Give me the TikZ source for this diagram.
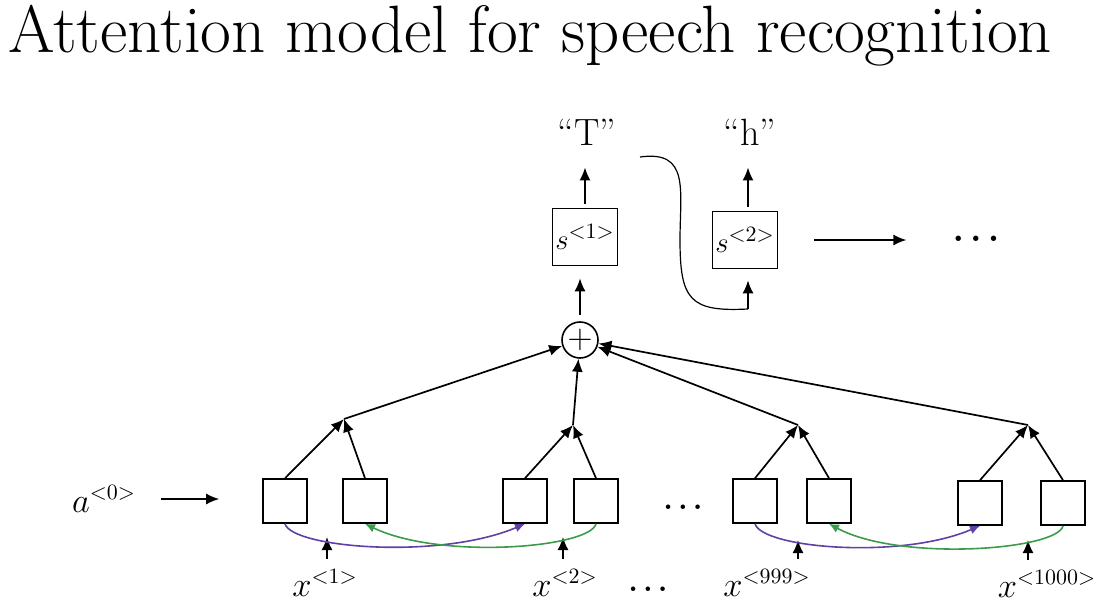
\documentclass[tikz,border=0pt]{standalone}
\usetikzlibrary{positioning}
\usetikzlibrary{arrows.meta}
\definecolor{purp}{RGB}{95,65,165}
\definecolor{grn}{RGB}{60,155,75}
\tikzset{
    mybox/.style = {rectangle, draw=black, line width=0.8pt, minimum size=22pt, inner sep=0pt},
    mysbox/.style = {rectangle, draw=black, line width=0.8pt, minimum width=32.5pt, minimum height=28.5pt, inner sep=0pt, font=\fontsize{15}{17}\selectfont},
    mycirc/.style = {circle, draw=black, line width=0.8pt, minimum size=18pt, inner sep=0pt, font=\fontsize{16}{16}\selectfont},
    mylab/.style = {inner sep=1pt, font=\fontsize{16}{19}\selectfont},
    mydots/.style = {inner sep=1pt, font=\fontsize{#1}{#1}\selectfont\boldmath},
    myquote/.style = {inner sep=1pt, font=\fontsize{19}{22}\selectfont},
    edgen/.style = {-{Latex[length=6.5pt,width=5.5pt]}, line width=0.85pt, black},
    edgeline/.style = {-, line width=0.6pt, black},
    edgep/.style = {-{Latex[length=5pt,width=4.5pt]}, line width=0.8pt, purp},
    edgeg/.style = {-{Latex[length=5pt,width=4.5pt]}, line width=0.8pt, grn},
}
\begin{document}
\begin{tikzpicture}[x=0.5pt,y=-0.5pt]
\path[use as bounding box] (0,0) rectangle (1107,610);
\node[anchor=base west, inner sep=0pt, font=\fontsize{33.5}{38}\selectfont] at (8,53) (title) {Attention model for speech recognition};
%
\node[mybox] at (285,501) (b1) {};
\node[mybox] at (365,501) (b2) {};
\node[mybox] at (525,501) (b3) {};
\node[mybox] at (596,501) (b4) {};
\node[mybox] at (755,501) (b5) {};
\node[mybox] at (829,501) (b6) {};
\node[mybox] at (980,503) (b7) {};
\node[mybox] at (1063,503) (b8) {};
%
\coordinate (m1) at (344,419);
\coordinate (m2) at (573,425);
\coordinate (m3) at (798,425);
\coordinate (m4) at (1028,425);
%
\node[mycirc] at (580,340) (plus) {$+$};
\node[mysbox] at (585,237) (s1) {$s^{<1>}$};
\node[mysbox] at (745,240) (s2) {$s^{<2>}$};
\node[myquote, anchor=base] at (587,145) (T) {``T''};
\node[myquote, anchor=base] at (750,145) (h) {``h''};
\node[mydots=18] at (976,239) (dots1) {$\dots$};
\node[mydots=14] at (683,507) (dots2) {$\dots$};
\node[mydots=14] at (648,589) (dots3) {$\dots$};
%
\node[mylab] at (104,499) (a0) {$a^{<0>}$};
\node[mylab, anchor=base] at (325,596) (x1) {$x^{<1>}$};
\node[mylab, anchor=base] at (565,596) (x2) {$x^{<2>}$};
\node[mylab, anchor=base] at (767,596) (x999) {$x^{<999>}$};
\node[mylab, anchor=base] at (1047,597) (x1000) {$x^{<1000>}$};
%
\coordinate (xt1) at (327,537);
\coordinate (xt2) at (563,537);
\coordinate (xt3) at (798,540);
\coordinate (xt4) at (1028,540);
\coordinate (c0) at (640,157);
\coordinate (c1) at (748,309);
%
\draw[edgen] (b1.north) -- (m1);
\draw[edgen] (b2.north) -- (m1);
\draw[edgen] (b3.north) -- (m2);
\draw[edgen] (b4.north) -- (m2);
\draw[edgen] (b5.north) -- (m3);
\draw[edgen] (b6.north) -- (m3);
\draw[edgen] (b7.north) -- (m4);
\draw[edgen] (b8.north) -- (m4);
\draw[edgen] (m1) -- (plus);
\draw[edgen] (m2) -- (plus);
\draw[edgen] (m3) -- (plus);
\draw[edgen] (m4) -- (plus);
%
\draw[edgen, shorten <=3pt, shorten >=6pt] (plus.north) -- (plus.north |- s1.south);
\draw[edgen, shorten <=2pt, shorten >=10pt] (s1.north) -- (s1.north |- T.south);
\draw[edgen, shorten <=2pt, shorten >=10pt] (c1 |- s2.north) -- (c1 |- h.south);
\draw[edgeline] (c0) .. controls (690,150) and (680,190) .. (680,240) .. controls (680,300) and (690,312) .. (c1);
\draw[edgen, shorten >=5.5pt] (c1) -- (c1 |- s2.south);
\draw[edgen, shorten <=18pt, shorten >=22pt] (s2.east) -- (s2.east -| dots1.west);
\draw[edgen, shorten <=11.5pt, shorten >=21.5pt] (a0.east) -- (a0.east -| b1.west);
%
\draw[edgen, shorten <=4pt] (x1.north -| xt1) -- (xt1);
\draw[edgen, shorten <=4pt] (x2.north -| xt2) -- (xt2);
\draw[edgen, shorten <=4pt] (x999.north -| xt3) -- (xt3);
\draw[edgen, shorten <=4pt] (x1000.north -| xt4) -- (xt4);
%
\draw[edgep] (b1.south) .. controls (292,548) and (440,560) .. (b3.south);
\draw[edgeg] (b4.south) .. controls (590,548) and (440,560) .. (b2.south);
\draw[edgep] (b5.south) .. controls (762,548) and (900,560) .. (b7.south);
\draw[edgeg] (b8.south) .. controls (1058,550) and (900,562) .. (b6.south);

\end{tikzpicture}
\end{document}
